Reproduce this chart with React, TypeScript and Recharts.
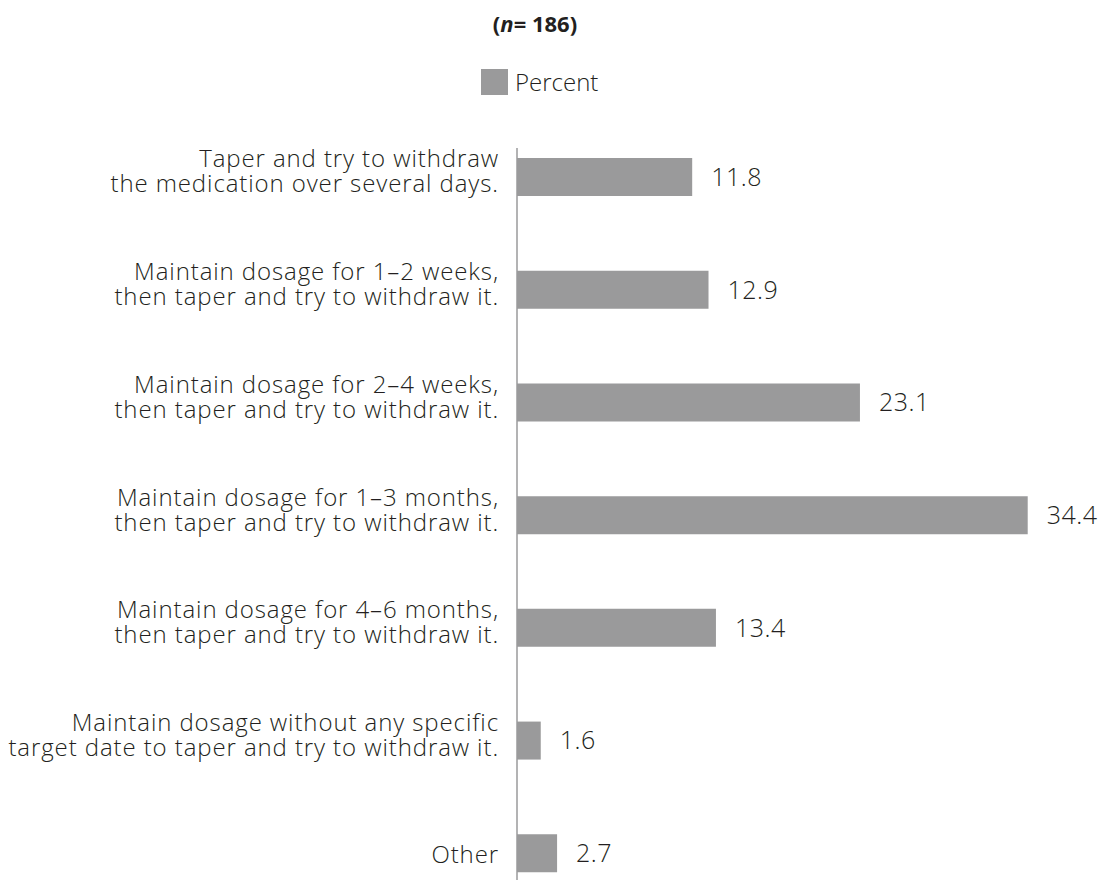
import { BarChart, Bar, XAxis, YAxis, LabelList } from "recharts";

const categories: string[][] = [
  ["Taper and try to withdraw", "the medication over several days."],
  ["Maintain dosage for 1\u20132 weeks,", "then taper and try to withdraw it."],
  ["Maintain dosage for 2\u20134 weeks,", "then taper and try to withdraw it."],
  ["Maintain dosage for 1\u20133 months,", "then taper and try to withdraw it."],
  ["Maintain dosage for 4\u20136 months,", "then taper and try to withdraw it."],
  ["Maintain dosage without any specific", "target date to taper and try to withdraw it."],
  ["Other"],
];
const percents = [11.8, 12.9, 23.1, 34.4, 13.4, 1.6, 2.7];

const FONT = "'Open Sans', Lato, sans-serif";
const TEXT = "#231f20";
const BAR = "#9a9a9b";

const data = categories.map((lines, i) => ({
  label: lines.join("\n"),
  percent: percents[i],
}));

function CategoryTick({ x, y, payload }: any) {
  const lines: string[] = String(payload.value).split("\n");
  const offsets = lines.length === 1 ? [9] : [-10, 15];
  return (
    <g>
      {lines.map((line, i) => (
        <text
          key={i}
          x={x - 18}
          y={y + offsets[i]}
          textAnchor="end"
          fontSize={24}
          fontWeight={300}
          letterSpacing={0.9}
          fontFamily={FONT}
          fill={TEXT}
        >
          {line}
        </text>
      ))}
    </g>
  );
}

export default function App() {
  return (
    <div style={{ position: "relative", width: 1100, height: 887, fontFamily: FONT }}>
      <div
        style={{
          position: "absolute",
          top: 0,
          left: 0,
          width: 1054,
          textAlign: "center",
          fontSize: 22,
          fontWeight: 700,
          color: TEXT,
        }}
      >
        (<i>n</i>= 186)
      </div>
      <div
        style={{
          position: "absolute",
          top: 57,
          left: 473,
          display: "flex",
          alignItems: "center",
          gap: 7,
          fontSize: 24,
          fontWeight: 300,
          color: TEXT,
        }}
      >
        <span style={{ width: 27, height: 26, background: BAR, display: "inline-block" }} />
        <span>Percent</span>
      </div>
      <BarChart
        width={1100}
        height={887}
        data={data}
        layout="vertical"
        margin={{ top: 140, right: 12, bottom: 15, left: 0 }}
      >
        <XAxis type="number" domain={[0, 39]} hide />
        <YAxis
          type="category"
          dataKey="label"
          width={509}
          tickSize={0}
          tickMargin={0}
          padding={{ top: -27, bottom: -30 }}
          axisLine={{ stroke: "#9a9a9b", strokeWidth: 1.5 }}
          tickLine={false}
          tick={<CategoryTick />}
          interval={0}
        />
        <Bar dataKey="percent" fill={BAR} barSize={38} isAnimationActive={false}>
          <LabelList
            dataKey="percent"
            position="right"
            offset={19}
            fontSize={25}
            fontWeight={300}
            letterSpacing={0.5}
            fontFamily={FONT}
            fill={TEXT}
            formatter={(v: any) => Number(v).toFixed(1)}
          />
        </Bar>
      </BarChart>
    </div>
  );
}
